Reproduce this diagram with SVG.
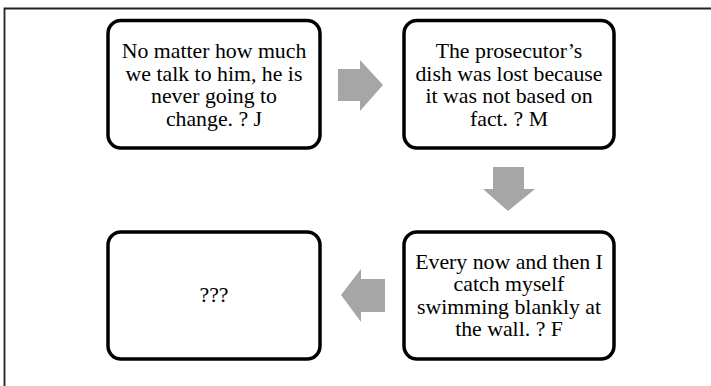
<svg xmlns="http://www.w3.org/2000/svg" width="711" height="386" viewBox="0 0 711 386">
<style>
.box{fill:#fff;stroke:#000;stroke-width:3.5}
.t{font-family:"Liberation Serif","Times New Roman",serif;font-size:21.8px;fill:#000;text-anchor:middle}
.arr{fill:#a6a6a6}
</style>
<rect width="711" height="386" fill="#fff"/>
<path d="M4.5 386 V8.5 H711" fill="none" stroke="#222" stroke-width="1.8"/>
<g id="connectors">
<polygon class="arr" points="338,69 360,69 360,60 383,85 360,111 360,101 338,101"/>
<polygon class="arr" points="493,167 524,167 524,189 535,189 508,211 483,189 493,189"/>
<polygon class="arr" points="385,279 361,279 361,269 341,295 361,322 361,312 385,312"/>
</g>
<g id="node1">
<rect class="box" x="108" y="20.5" width="212" height="127.5" rx="13"/>
<text class="t" x="214" y="58">No matter how much</text>
<text class="t" x="214" y="80.5">we talk to him, he is</text>
<text class="t" x="214" y="103">never going to</text>
<text class="t" x="214" y="125.5">change. ? J</text>
</g>
<g id="node2">
<rect class="box" x="404" y="20.5" width="210" height="127.5" rx="13"/>
<text class="t" x="509" y="58">The prosecutor’s</text>
<text class="t" x="509" y="80.5">dish was lost because</text>
<text class="t" x="509" y="103">it was not based on</text>
<text class="t" x="509" y="125.5">fact. ? M</text>
</g>
<g id="node3">
<rect class="box" x="404" y="232" width="210" height="127" rx="13"/>
<text class="t" x="509" y="268.5">Every now and then I</text>
<text class="t" x="509" y="291">catch myself</text>
<text class="t" x="509" y="313.5">swimming blankly at</text>
<text class="t" x="509" y="336">the wall. ? F</text>
</g>
<g id="node4">
<rect class="box" x="108" y="232" width="212" height="127" rx="13"/>
<text class="t" x="214" y="302">???</text>
</g>
</svg>
